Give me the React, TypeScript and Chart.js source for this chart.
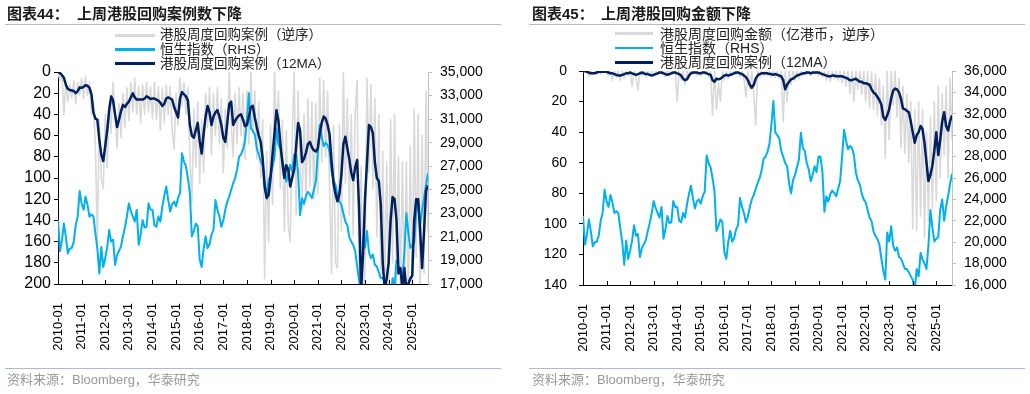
import React, { useEffect, useRef } from "react";
import { Chart, registerables } from "chart.js";

Chart.register(...registerables);

// x-axis tick labels (one per January)
const X_TICK_LABELS = [
  "2010-01", "2011-01", "2012-01", "2013-01", "2014-01", "2015-01", "2016-01", "2017-01",
  "2018-01", "2019-01", "2020-01", "2021-01", "2022-01", "2023-01", "2024-01", "2025-01",
];
const LAST_MONTH_INDEX = 188; // 2025-09

// 恒生指数 (monthly readings, 2010-01 .. 2025-09)
const HSI = [
  22440, 19790, 20700, 22130, 21000, 19610, 20000, 20050, 20600, 22000, 22730, 24900,
  23840, 23300, 24420, 23700, 22730, 22900, 22730, 21320, 20000, 17900, 20150, 18440,
  19200, 20150, 21590, 20600, 20770, 18620, 19470, 19800, 20200, 21050, 21800, 22730,
  23840, 23200, 22730, 22300, 23300, 20330, 21200, 22440, 21800, 21860, 23840, 23300,
  23300, 22000, 21860, 22730, 22300, 23570, 24500, 25280, 24140, 23150, 23800, 24000,
  23600, 24300, 24730, 28110, 27400, 26980, 26000, 24730, 21050, 21500, 22130, 21900,
  19070, 18440, 20000, 21050, 20050, 20400, 21200, 21590, 24140, 23300, 22730, 21860,
  22400, 23300, 24000, 24420, 25000, 25550, 26000, 26720, 27800, 28000, 28430, 29200,
  31000, 33200, 30230, 30000, 29700, 28520, 28000, 27400, 27100, 25500, 24560, 25800,
  26270, 27000, 27700, 30230, 28800, 28520, 27400, 26800, 25700, 26300, 27100, 26540,
  28000, 27980, 26500, 22850, 24290, 23800, 24500, 24830, 24600, 24290, 25000, 25700,
  28000, 30500, 29500, 28700, 29000, 28800, 28200, 26540, 25800, 25420, 24560, 24000,
  23730, 23000, 22300, 21990, 21000, 20600, 20300, 19800, 18500, 17300, 16500, 20900,
  20070, 21500, 19700, 19200, 19500, 18620, 18500, 18000, 17500, 17500, 17200, 16800,
  16500, 15500, 17500, 16800, 19000, 18400, 18000, 17500, 19700, 23000, 21400, 20070,
  20300, 20500, 23050, 24000, 22000, 23300, 24290, 25420, 26400,
];

// 港股周度回购案例（12MA） monthly
const CASES_12MA = [
  0, 1, 3, 5.5, 12, 16, 17, 17.5, 18, 20, 18, 14.5,
  15, 14, 12.5, 13, 15, 21, 38, 44, 45, 64, 78, 84,
  70, 55, 36, 23, 27, 40, 52, 45, 37, 31, 33, 30,
  28, 24, 20, 24, 26, 26, 26, 26, 25, 23, 24, 25.5,
  25, 25, 26, 27, 29, 32, 30, 25, 24, 25, 26, 33,
  38, 43, 25, 19, 21, 23, 27, 50, 60, 62, 55, 48,
  65, 77, 58, 42, 32, 38, 50, 42, 38, 36, 42, 50,
  62, 66, 48, 30, 28, 50, 46, 43, 41, 40, 45, 51,
  50, 42, 33, 32, 43, 52, 60, 66, 82, 108, 119, 116,
  100, 78, 58, 36, 46, 68, 85, 100, 88, 92, 108, 100,
  92, 70, 48, 55, 85, 82, 76, 68, 66, 71, 74, 75,
  72, 58, 48, 42, 44, 50, 59, 85, 105, 115, 122, 115,
  97, 68, 61, 72, 82, 95, 102, 90, 83, 130, 205, 172,
  120, 85, 50, 52, 58, 85, 100, 103, 125, 180, 205, 195,
  180, 140, 118, 120, 140, 190, 185, 205, 185, 205, 200, 195,
  192, 140, 120, 120, 150, 185, 150, 112, 107,
];

// 港股周度回购案例（逆序） monthly readings
const CASES_WEEKLY = [
  0, 8, 2, 40, 10, 28, 12, 25, 8, 30, 10, 22,
  6, 25, 4, 22, 10, 40, 28, 70, 160, 45, 100, 110,
  40, 90, 30, 58, 10, 42, 72, 30, 62, 20, 52, 15,
  46, 10, 38, 6, 40, 14, 48, 12, 40, 10, 38, 14,
  44, 10, 45, 14, 55, 15, 48, 12, 40, 14, 55, 73,
  20, 50, 6, 32, 10, 40, 15, 80, 124, 35, 90, 28,
  105, 45, 95, 20, 52, 15, 78, 20, 60, 15, 68, 25,
  95, 35, 72, 0, 48, 80, 20, 68, 15, 60, 20, 82,
  18, 68, 0, 58, 18, 82, 28, 100, 45, 195, 75, 160,
  50, 125, 0, 62, 18, 110, 45, 150, 55, 145, 160, 60,
  0, 135, 18, 85, 130, 40, 120, 25, 108, 28, 120, 30,
  115, 6, 85, 8, 80, 18, 110, 190, 50, 180, 185, 50,
  150, 0, 105, 25, 135, 40, 155, 38, 8, 200, 90, 210,
  190, 6, 95, 12, 110, 25, 155, 40, 190, 75, 210, 85,
  210, 45, 180, 40, 200, 80, 210, 85, 210, 85, 210, 70,
  210, 35, 175, 40, 210, 60, 190, 18, 150,
];

// 港股周度回购金额（12MA, 亿港币） monthly
const AMOUNT_12MA = [
  0, 0, 0.5, 1, 1.5, 1.5, 1.5, 1, 0.5, 0.5, 0.5, 0.5,
  0.5, 1, 1.5, 1.5, 2, 2.5, 3, 3, 2.5, 2, 1.5, 1.5,
  1, 1.5, 2, 2.5, 2, 1.5, 1, 1.5, 2, 2, 2.5, 3,
  2.5, 2, 1.5, 1, 1, 1.5, 2, 2.5, 2, 1.5, 1, 1,
  1.5, 2, 3, 5, 6, 5.5, 3, 1.5, 1, 1, 1, 1.5,
  1.5, 1, 1, 1.5, 2, 2.5, 6, 7, 5, 5.5, 5, 4,
  3, 2.5, 3, 2.5, 2, 1.5, 1, 1, 1.5, 2, 3, 4,
  6, 9, 11, 9, 5, 3, 2, 1.5, 1.5, 1.5, 1.5, 2,
  2, 2.5, 2, 2.5, 3, 3.5, 6, 12, 9, 7, 5.5, 5,
  4, 3, 2.5, 2, 1.5, 1.5, 1, 1, 1.5, 1, 1, 1,
  1, 1.5, 2, 2.5, 3, 3.5, 3.5, 3, 3, 3.5, 3.5, 3.5,
  3.5, 4, 4.5, 5, 6, 6, 5.5, 5, 6, 7, 7, 8,
  8, 8.5, 9, 12, 14, 15, 17, 19, 22, 30, 32, 29,
  25, 18, 13, 11.5, 12, 14, 18, 24.6, 25, 26, 27, 33,
  40, 47, 42, 40, 36, 38, 47, 60, 72, 68, 62, 52,
  40, 55, 45, 33, 27, 36, 39, 33, 29,
];

// 港股周度回购金额（亿港币，逆序） monthly readings
const AMOUNT_WEEKLY = [
  0, 1, 0, 3.5, 0, 2, 0, 1, 0, 2, 0, 1,
  0, 3, 0, 6, 0, 4, 0, 6, 0, 5, 0, 3,
  0, 10, 0, 4, 12.6, 0, 3, 0, 4, 0, 3, 0,
  3, 0, 2, 0, 2, 0, 4, 0, 3, 0, 2, 0,
  20, 0, 6, 0, 9, 0, 4, 0, 2, 0, 3, 0,
  3, 0, 2, 0, 4, 0, 29, 0, 25, 8, 20, 0,
  6, 0, 5, 0, 3, 0, 2, 0, 4, 0, 5, 17,
  0, 12, 0, 15, 35.5, 0, 4, 0, 3, 0, 3, 0,
  4, 0, 4, 0, 5, 0, 33, 0, 20, 0, 9, 0,
  6, 0, 5, 0, 3, 0, 2, 0, 3, 0, 2, 0,
  3, 0, 4, 0, 6, 0, 7, 0, 5, 0, 6, 0,
  8, 0, 10, 0, 15, 0, 20, 0, 12, 0, 15, 0,
  20, 0, 24, 0, 25, 2, 29, 5, 35, 10, 57, 0,
  45, 0, 22, 0, 30, 5, 50, 10, 54, 15, 60, 20,
  103, 25, 104, 20, 95, 25, 109, 40, 98, 30, 90, 20,
  85, 10, 70, 15, 55, 10, 70, 5, 45,
];

const GRAY = "#d9d9d9";
const BLUE = "#00b0f0";
const NAVY = "#002060";
const NUM_FONT = '"Liberation Sans", Arial, sans-serif';
const CJK_FONT = '"Liberation Sans", "Noto Sans CJK SC", sans-serif';

const xTicksUp = {
  id: "xTicksUp",
  afterDraw(chart: any) {
    const xs = chart.scales.x;
    const ctx = chart.ctx;
    const b = chart.chartArea.bottom;
    ctx.save();
    ctx.strokeStyle = "#000";
    ctx.lineWidth = 1;
    xs.ticks.forEach((t: any) => {
      const px = Math.round(xs.getPixelForValue(t.value)) + 0.5;
      ctx.beginPath();
      ctx.moveTo(px, b);
      ctx.lineTo(px, b - 4);
      ctx.stroke();
    });
    ctx.restore();
  },
};

type PanelCfg = {
  weekly: number[];
  ma: number[];
  leftMax: number;
  rightMin: number;
  rightMax: number;
  leftWidth: number;
  rightWidth: number;
  top: number;
  xHeight: number;
  leftFont: number;
  leftPad: number;
};

function makeConfig(p: PanelCfg): any {
  return {
    type: "line",
    data: {
      datasets: [
        {
          data: p.ma.map((v, i) => ({ x: i, y: v })),
          yAxisID: "yL",
          borderColor: NAVY,
          borderWidth: 2.5,
          order: 1,
        },
        {
          data: HSI.map((v, i) => ({ x: i, y: v })),
          yAxisID: "yR",
          borderColor: BLUE,
          borderWidth: 2,
          order: 2,
        },
        {
          data: p.weekly.map((v, i) => ({ x: i, y: v })),
          yAxisID: "yL",
          borderColor: GRAY,
          borderWidth: 1.6,
          order: 3,
        },
      ],
    },
    options: {
      animation: false,
      responsive: false,
      events: [],
      layout: { padding: { top: p.top, left: 0, right: 0, bottom: 0 } },
      elements: { point: { radius: 0 }, line: { tension: 0, borderJoinStyle: "round" } },
      plugins: { legend: { display: false }, tooltip: { enabled: false } },
      scales: {
        x: {
          type: "linear",
          min: 0,
          max: LAST_MONTH_INDEX,
          afterBuildTicks: (s: any) => {
            s.ticks = X_TICK_LABELS.map((_, i) => ({ value: i * 12 }));
          },
          afterFit: (s: any) => {
            s.height = p.xHeight;
          },
          ticks: {
            autoSkip: false,
            minRotation: 90,
            maxRotation: 90,
            padding: 11,
            color: "#000",
            font: { family: NUM_FONT, size: 13 },
            callback: (v: number) => X_TICK_LABELS[Math.round(v / 12)],
          },
          grid: { display: false },
          border: { display: true, color: "#000", width: 1 },
        },
        yL: {
          type: "linear",
          position: "left",
          reverse: true,
          min: 0,
          max: p.leftMax,
          afterFit: (s: any) => {
            s.width = p.leftWidth;
          },
          ticks: {
            stepSize: 20,
            autoSkip: false,
            padding: p.leftPad,
            color: "#000",
            font: { family: NUM_FONT, size: p.leftFont },
          },
          grid: { drawOnChartArea: false, drawTicks: true, tickLength: 4, color: "#000" },
          border: { color: "#000", width: 1 },
        },
        yR: {
          type: "linear",
          position: "right",
          min: p.rightMin,
          max: p.rightMax,
          afterFit: (s: any) => {
            s.width = p.rightWidth;
          },
          ticks: {
            stepSize: 2000,
            autoSkip: false,
            padding: 8,
            color: "#000",
            font: { family: NUM_FONT, size: 14 },
            callback: (v: number) => v.toLocaleString("en-US"),
          },
          grid: { drawOnChartArea: false, drawTicks: true, tickLength: 4, color: "#bfbfbf" },
          border: { color: "#bfbfbf", width: 1 },
        },
      },
    },
    plugins: [xTicksUp],
  };
}

function ChartCanvas({ cfg, left }: { cfg: PanelCfg; left: number }) {
  const ref = useRef<HTMLCanvasElement>(null);
  useEffect(() => {
    if (!ref.current) return;
    const c = new Chart(ref.current, makeConfig(cfg));
    return () => c.destroy();
  }, []);
  return (
    <canvas
      ref={ref}
      width={515}
      height={394}
      style={{ position: "absolute", left, top: 0, width: 515, height: 394 }}
    />
  );
}

type LegendItem = { color: string; label: string; thick: number };

function Legend({
  items, lineLeft, lineWidth, textLeft, rows, fontSize,
}: {
  items: LegendItem[]; lineLeft: number; lineWidth: number; textLeft: number; rows: number[]; fontSize: number;
}) {
  return (
    <>
      {items.map((it, i) => (
        <React.Fragment key={i}>
          <div
            style={{
              position: "absolute", left: lineLeft, top: rows[i] - it.thick / 2,
              width: lineWidth, height: it.thick, background: it.color,
            }}
          />
          <div
            style={{
              position: "absolute", left: textLeft, top: rows[i] - 9, height: 18, lineHeight: "18px",
              fontSize, fontFamily: CJK_FONT, color: "#222", whiteSpace: "nowrap",
            }}
          >
            {it.label}
          </div>
        </React.Fragment>
      ))}
    </>
  );
}

function Frame({ left, right, textLeft, gapLeft, num, title }: {
  left: number; right: number; textLeft: number; gapLeft: number; num: string; title: string;
}) {
  return (
    <>
      <div style={{
        position: "absolute", left: textLeft, top: 4, height: 20, lineHeight: "20px", fontSize: 15,
        fontWeight: "bold", fontFamily: CJK_FONT, color: "#1a1a1a", whiteSpace: "nowrap",
      }}>
        {num}
      </div>
      <div style={{
        position: "absolute", left: gapLeft, top: 4, height: 20, lineHeight: "20px", fontSize: 15,
        fontWeight: "bold", fontFamily: CJK_FONT, color: "#1a1a1a", whiteSpace: "nowrap",
      }}>
        {title}
      </div>
      <div style={{ position: "absolute", left, top: 24, width: right - left, height: 1, background: "#a9bcd6" }} />
      <div style={{ position: "absolute", left, top: 368, width: right - left, height: 1, background: "#a9bcd6" }} />
      <div style={{
        position: "absolute", left: textLeft, top: 371, height: 18, lineHeight: "18px", fontSize: 13,
        fontFamily: CJK_FONT, color: "#9a9a9a", whiteSpace: "nowrap",
      }}>
        资料来源：Bloomberg，华泰研究
      </div>
    </>
  );
}

const PANEL1: PanelCfg = {
  weekly: CASES_WEEKLY, ma: CASES_12MA, leftMax: 200, rightMin: 17000, rightMax: 35000,
  leftWidth: 58, rightWidth: 87, top: 72, xHeight: 110, leftFont: 16, leftPad: 3,
};
const PANEL2: PanelCfg = {
  weekly: AMOUNT_WEEKLY, ma: AMOUNT_12MA, leftMax: 140, rightMin: 16000, rightMax: 36000,
  leftWidth: 68, rightWidth: 78, top: 71, xHeight: 109, leftFont: 14, leftPad: 12,
};

export default function App() {
  return (
    <div style={{ position: "fixed", left: 0, top: 0, width: 1030, height: 394, background: "#fff", overflow: "hidden" }}>
      <ChartCanvas cfg={PANEL1} left={0} />
      <ChartCanvas cfg={PANEL2} left={515} />
      <Frame left={5} right={501} textLeft={7} gapLeft={77} num="图表44：" title="上周港股回购案例数下降" />
      <Frame left={529} right={1025} textLeft={532} gapLeft={601} num="图表45：" title="上周港股回购金额下降" />
      <Legend
        items={[
          { color: GRAY, label: "港股周度回购案例（逆序）", thick: 3 },
          { color: BLUE, label: "恒生指数（RHS）", thick: 2.5 },
          { color: NAVY, label: "港股周度回购案例（12MA）", thick: 3 },
        ]}
        lineLeft={115} lineWidth={40} textLeft={160} rows={[35, 49.5, 63.5]} fontSize={13.5}
      />
      <Legend
        items={[
          { color: GRAY, label: "港股周度回购金额（亿港币，逆序）", thick: 3 },
          { color: BLUE, label: "恒生指数（RHS）", thick: 2.5 },
          { color: NAVY, label: "港股周度回购案例（12MA）", thick: 3 },
        ]}
        lineLeft={615} lineWidth={38} textLeft={660} rows={[33.5, 48, 62]} fontSize={14}
      />
    </div>
  );
}
